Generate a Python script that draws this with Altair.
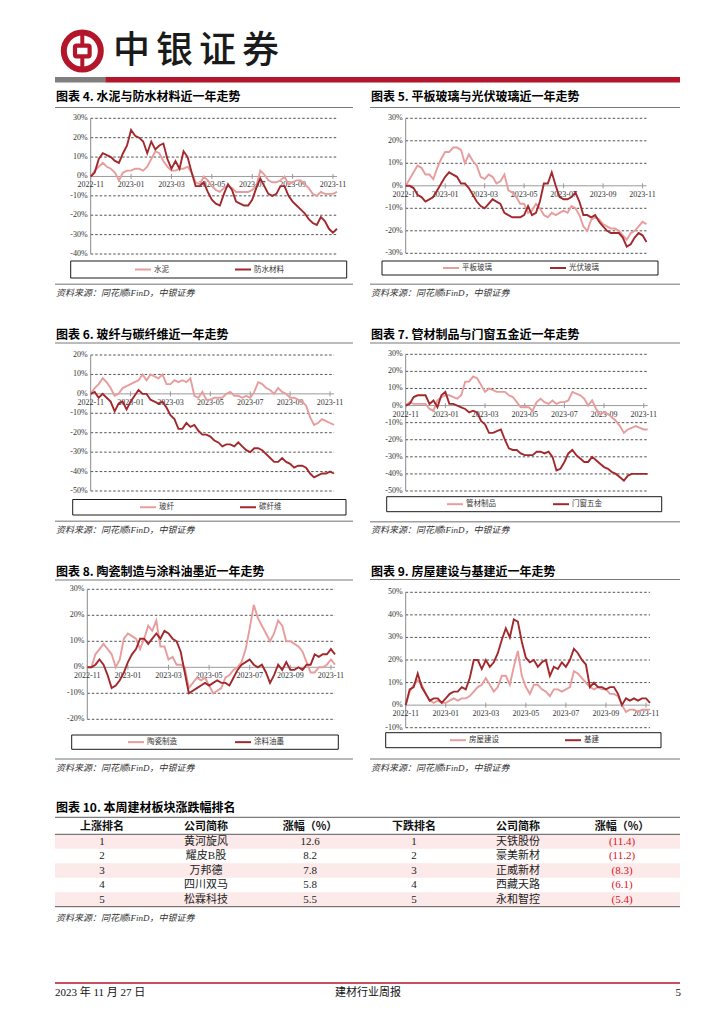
import altair as alt
import pandas as pd

# ------------------------------------------------------------------ data
month_labels = ["2022-11", "2023-01", "2023-03", "2023-05", "2023-07", "2023-09", "2023-11"]
month_label_idx = [0, 10, 20, 30, 40, 50, 60]

# chart 4
cement = [0, 3, 5, 7, 5, 4, 2, -2, 2, 3, 3, 4, 4, 3, 5, 9, 13, 12, 8, 5, 3, 3, 4, 4, 5, 2, -3, -4, 0, -2,
          -5, -7, -8, -6, -5, -6, -8, -8, -8, -8, -7, -5, 3, 1, -2, -3, -3, -2, 0, -4, -3, -2, -2, -4,
          -6, -9, -10, -8, -9, -9, -9, -8]
waterproof = [0, 2, 9, 12, 11, 10, 8, 7, 12, 16, 24, 21, 20, 18, 12, 18, 14, 16, 17, 9, 4, 8, 4, 13, 10,
              2, -5, -5, -3, -8, -12, -14, -15, -9, -4, -7, -13, -14, -15, -15, -12, -6, -1, -5, -9, -10,
              -9, -5, -5, -10, -13, -15, -17, -19, -22, -24, -25, -21, -23, -27, -29, -27]
# chart 5
flat_glass = [0, 3, 6, 9, 8, 5, 5, 3, 8, 12, 15, 15, 17, 17, 16, 10, 14, 11, 9, 4, 3, 5, 4, 1, 2, 5, -2,
              -3, -5, -8, -8, -12, -11, -8, -10, -13, -14, -12, -13, -12, -11, -12, -9, -10, -13, -18,
              -20, -15, -14, -15, -17, -18, -19, -19, -20, -22, -24, -21, -20, -18, -16, -17]
pv_glass = [0, 0, -1, -4, -5, -7, -6, -5, -2, 1, 4, 6, 5, 4, 1, 1, -1, -4, -7, -9, -10, -8, -6, -7, -8,
            -12, -13, -14, -14, -14, -13, -9, -13, -12, -7, 1, 1, 6, 0, -5, -6, -6, -5, -3, -7, -13, -13,
            -14, -13, -16, -18, -20, -21, -21, -21, -23, -27, -26, -23, -21, -22, -25]
# chart 6
glass_fiber = [0, 3, 5, 8, 6, 3, -1, 0, 3, 4, 5, 6, 7, 10, 7, 10, 9, 8, 10, 5, 5, 7, 6, 7, 6, 8, -1, -2,
               1, -3, -3, -2, -2, -2, 0, 1, -1, -1, -2, -1, -2, 1, 6, 5, 3, 2, 0, 3, 1, 0, -2, -2, -3,
               -4, -6, -12, -16, -15, -13, -14, -15, -16]
carbon_fiber = [0, 1, -2, 0, -2, -4, -9, -5, -4, -8, -4, -1, 2, 0, 0, -3, -4, -5, -4, -7, -11, -13, -18,
                -18, -15, -17, -16, -19, -21, -21, -22, -24, -25, -27, -26, -26, -27, -25, -27, -29, -30,
                -28, -28, -29, -31, -33, -35, -35, -33, -35, -36, -38, -37, -37, -38, -41, -43, -42, -41,
                -41, -40, -41]
# chart 7
pipes = [0, 2, 1, 1, 1, 1, -2, -3, 3, 5, 6, 6, 5, 4, 6, 14, 14, 17, 16, 12, 8, 10, 9, 8, 8, 8, 6, 5, 2,
         -1, -1, -1, -3, 2, 4, 2, 1, 3, 1, 2, 2, 3, 8, 7, 6, 4, 0, 3, -2, -5, -4, -5, -7, -9, -12, -16,
         -14, -13, -12, -13, -14, -14]
hardware = [0, 1, 5, 6, 6, 6, 1, 3, -1, 6, 8, 1, 1, 0, -1, -2, -4, -3, -4, -9, -11, -16, -16, -15, -14,
            -20, -25, -26, -26, -28, -29, -29, -29, -27, -27, -28, -27, -30, -38, -37, -33, -28, -26, -29,
            -31, -33, -33, -30, -32, -34, -36, -37, -39, -40, -42, -44, -41, -40, -40, -40, -40, -40]
# chart 8
ceramics = [0, 0, 5, 7, 9, 7, 5, 0, 3, 11, 13, 12, 11, 7, 11, 16, 14, 18, 8, 8, 3, 4, 1, 1, 0, -8, -6,
            -4, -5, -4, -7, -10, -9, -8, -4, -3, -1, 0, 2, 7, 15, 24, 19, 16, 13, 10, 13, 18, 16, 10, 10,
            9, 8, 6, 2, -2, -2, 0, 0, 1, 3, 1]
coatings = [0, 0, 1, 3, 1, -3, -8, -7, -5, -2, 2, 5, 7, 11, 11, 9, 11, 13, 11, 14, 13, 11, 10, 6, -2,
            -10, -9, -8, -7, -6, -7, -6, -5, -6, -6, -7, -4, -1, 1, 2, 3, 1, 0, 1, -2, -6, -3, 1, -1, 2,
            -1, -1, 0, -1, 1, 1, 5, 4, 5, 5, 7, 5]
# chart 9
housing = [0, 6, 9, 11, 9, 5, 2, 1, 2, 1, 1, 2, 3, 2, 3, 3, 4, 6, 8, 9, 12, 9, 6, 8, 13, 13, 9, 17, 24,
           13, 8, 5, 9, 9, 7, 6, 4, 7, 7, 6, 7, 8, 15, 14, 12, 10, 8, 7, 8, 7, 7, 5, 5, 4, 0, -3, -2, -2,
           -3, -2, -2, -2]
infra = [0, 7, 8, 14, 8, 5, 2, 3, 3, 1, 3, 5, 6, 6, 8, 7, 12, 20, 20, 16, 20, 17, 19, 23, 29, 34, 30, 38,
         37, 28, 21, 19, 20, 17, 19, 20, 13, 17, 16, 19, 17, 20, 25, 23, 20, 18, 8, 10, 8, 8, 7, 8, 8, 5,
         0, 3, 2, 3, 2, 3, 3, 1]

ticks_4 = [30, 20, 10, 0, -10, -20, -30, -40]
ticks_5 = [30, 20, 10, 0, -10, -20, -30]
ticks_6 = [20, 10, 0, -10, -20, -30, -40, -50]
ticks_7 = [30, 20, 10, 0, -10, -20, -30, -40, -50]
ticks_8 = [30, 20, 10, 0, -10, -20]
ticks_9 = [50, 40, 30, 20, 10, 0, -10]

# table
table_header = ["上涨排名", "公司简称", "涨幅（%）", "下跌排名", "公司简称", "涨幅（%）"]
up_rank = ["1", "2", "3", "4", "5"]
up_name = ["黄河旋风", "耀皮B股", "万邦德", "四川双马", "松霖科技"]
up_pct = ["12.6", "8.2", "7.8", "5.8", "5.5"]
down_rank = ["1", "2", "3", "4", "5"]
down_name = ["天铁股份", "豪美新材", "正威新材", "西藏天路", "永和智控"]
down_pct = ["(11.4)", "(11.2)", "(8.3)", "(6.1)", "(5.4)"]

SOURCE = "资料来源：同花顺iFinD，中银证券"

# ------------------------------------------------------------------ style
O = 8  # page margin
RED = "#B3152B"
PINK = "#E89C9C"
DARK = "#A3282C"
SERIF = "Liberation Serif, Noto Sans CJK SC"
SANS = "Noto Sans CJK SC"
ONE = alt.Data(values=[{}])


def p(v):
    return v - O


def txt(s, x, y, size=9, align="left", weight="normal", font=SERIF, color="#000", style=None):
    kw = dict(text=s, align=align, baseline="middle", fontSize=size, fontWeight=weight,
              font=font, color=color)
    if style:
        kw["fontStyle"] = style
    return alt.Chart(ONE).mark_text(**kw).encode(x=alt.value(p(x)), y=alt.value(p(y)))


def hrule(x1, x2, y, color="#000", width=1.0, dash=None):
    kw = dict(color=color, strokeWidth=width)
    if dash:
        kw["strokeDash"] = dash
    return alt.Chart(ONE).mark_rule(**kw).encode(
        x=alt.value(p(x1)), x2=alt.value(p(x2)), y=alt.value(p(y)))


def box(x1, x2, y1, y2, fill="#fff", stroke="#000", sw=0.8, r=0):
    kw = dict(fill=fill, strokeWidth=sw)
    if stroke:
        kw["stroke"] = stroke
    if r:
        kw["cornerRadius"] = r
    return alt.Chart(ONE).mark_rect(**kw).encode(
        x=alt.value(p(x1)), x2=alt.value(p(x2)), y=alt.value(p(y1)), y2=alt.value(p(y2)))


def panel(g, a, b, names, ticks):
    n = len(a)
    x0, x1, yt, yb = g["plot"]
    lo, hi = min(ticks), max(ticks)
    xs = alt.Scale(domain=[0, n - 1], range=[p(x0), p(x1)], nice=False, zero=False)
    ys = alt.Scale(domain=[lo, hi], range=[p(yb), p(yt)], nice=False, zero=False)
    X = lambda f: alt.X(f, type="quantitative", scale=xs, axis=None)
    Y = lambda f: alt.Y(f, type="quantitative", scale=ys, axis=None)
    y0 = yb - (0 - lo) / (hi - lo) * (yb - yt)

    tick_df = pd.DataFrame({"v": ticks, "lab": [f"{t}%" for t in ticks]})
    grid_df = tick_df[tick_df.v != 0]
    zero_df = tick_df[tick_df.v == 0]
    mon_df = pd.DataFrame({"i": month_label_idx, "lab": month_labels})
    da = pd.DataFrame({"i": list(range(n)), "v": a})
    db = pd.DataFrame({"i": list(range(n)), "v": b})

    layers = [
        alt.Chart(grid_df).mark_rule(color="#262626", strokeDash=[2.5, 2], strokeWidth=0.8).encode(
            y=Y("v"), x=alt.value(p(x0)), x2=alt.value(p(x1))),
        alt.Chart(zero_df).mark_rule(color="#9a9a9a", strokeWidth=1).encode(
            y=Y("v"), x=alt.value(p(x0)), x2=alt.value(p(x1))),
        alt.Chart(ONE).mark_rule(color="#8a8a8a", strokeWidth=1).encode(
            x=alt.value(p(x0)), y=alt.value(p(yt)), y2=alt.value(p(yb))),
        alt.Chart(tick_df).mark_text(align="right", baseline="middle", font=SERIF, fontSize=8,
                                     color="#333").encode(
            y=Y("v"), x=alt.value(p(x0) - 3), text="lab:N"),
        alt.Chart(mon_df).mark_rule(color="#9a9a9a", strokeWidth=1).encode(
            x=X("i"), y=alt.value(p(y0) - 2.5), y2=alt.value(p(y0) + 2.5)),
        alt.Chart(mon_df).mark_text(align="center", baseline="middle", font=SERIF, fontSize=8,
                                    color="#333").encode(
            x=X("i"), y=alt.value(p(y0) + 9), text="lab:N"),
        alt.Chart(da).mark_line(color=PINK, strokeWidth=1.9).encode(x=X("i"), y=Y("v")),
        alt.Chart(db).mark_line(color=DARK, strokeWidth=1.9).encode(x=X("i"), y=Y("v")),
    ]

    tx, ty = g["title"]
    ux1, ux2, uy = g["under"]
    lx1, lx2, ly1, ly2 = g["legbox"]
    ly = (ly1 + ly2) / 2
    pa, pb = g["leg"]
    sy = g["sep"]
    layers += [
        txt(g["text"], tx, ty, size=12, weight="bold", font=SANS),
        hrule(ux1, ux2, uy, color="#555", width=0.8),
        box(lx1, lx2, ly1, ly2, sw=0.9),
        hrule(pa, pa + 16, ly, color=PINK, width=2),
        txt(names[0], pa + 19, ly, size=7.5, color="#333"),
        hrule(pb, pb + 16, ly, color=DARK, width=2),
        txt(names[1], pb + 19, ly, size=7.5, color="#333"),
        hrule(ux1, ux2, sy, color="#a0a0a0", width=1.6),
        txt(SOURCE, ux1 + 1, sy + 8.5, size=9, color="#333", style="italic"),
    ]
    return alt.layer(*layers)


L = (55, 353)
R = (370, 680)
geo4 = dict(plot=(90.7, 337, 118.3, 254), title=(56, 97), under=(L[0], L[1], 107.5),
            legbox=(70.7, 346.7, 261, 278), leg=(135, 235), sep=284.3,
            text="图表 4. 水泥与防水材料近一年走势")
geo5 = dict(plot=(405.7, 646.5, 118.3, 253.3), title=(371, 97), under=(R[0], R[1], 107.5),
            legbox=(382, 658, 261, 275), leg=(443, 550), sep=284.3,
            text="图表 5. 平板玻璃与光伏玻璃近一年走势")
geo6 = dict(plot=(90.7, 334, 355, 491), title=(56, 334.5), under=(L[0], L[1], 343),
            legbox=(72.7, 346, 499.5, 515), leg=(140, 240), sep=521.3,
            text="图表 6. 玻纤与碳纤维近一年走势")
geo7 = dict(plot=(405.7, 647.7, 354.3, 491), title=(371, 334.5), under=(R[0], R[1], 343),
            legbox=(386.7, 661.7, 496.7, 511.7), leg=(447, 553), sep=521.7,
            text="图表 7. 管材制品与门窗五金近一年走势")
geo8 = dict(plot=(87.3, 335, 589.3, 719.3), title=(56, 571.5), under=(L[0], L[1], 580),
            legbox=(71.7, 338.3, 735, 749.3), leg=(128, 235), sep=759,
            text="图表 8. 陶瓷制造与涂料油墨近一年走势")
geo9 = dict(plot=(405.7, 650, 592.3, 727.7), title=(371, 571.5), under=(R[0], R[1], 579.5),
            legbox=(385.7, 661, 732.7, 747.7), leg=(450, 565), sep=759,
            text="图表 9. 房屋建设与基建近一年走势")

panels = [
    panel(geo4, cement, waterproof, ["水泥", "防水材料"], ticks_4),
    panel(geo5, flat_glass, pv_glass, ["平板玻璃", "光伏玻璃"], ticks_5),
    panel(geo6, glass_fiber, carbon_fiber, ["玻纤", "碳纤维"], ticks_6),
    panel(geo7, pipes, hardware, ["管材制品", "门窗五金"], ticks_7),
    panel(geo8, ceramics, coatings, ["陶瓷制造", "涂料油墨"], ticks_8),
    panel(geo9, housing, infra, ["房屋建设", "基建"], ticks_9),
]

# ------------------------------------------------------------------ header
cx, cy = 82.3, 51
header = [
    alt.Chart(ONE).mark_point(shape="circle", size=37 ** 2, filled=False, stroke=RED,
                              strokeWidth=6, opacity=1).encode(x=alt.value(p(cx)), y=alt.value(p(cy))),
    alt.Chart(ONE).mark_rule(color=RED, strokeWidth=4).encode(
        x=alt.value(p(cx)), y=alt.value(p(cy - 19)), y2=alt.value(p(cy + 19))),
    box(cx - 7.3, cx + 7.3, cy - 5.3, cy + 5.3, fill="#fff", stroke=RED, sw=4.2, r=1.5),
    box(55, 105.3, 77, 82.5, fill="#7f7f7f", stroke=None, sw=0),
    box(105.3, 680, 77, 82.5, fill=RED, stroke=None, sw=0),
]
for k, ch in enumerate("中银证券"):
    header.append(txt(ch, 113 + k * 43, 52, size=37, font=SANS, weight=500, color="#1a1a1a"))

# ------------------------------------------------------------------ table
cols = [up_rank, up_name, up_pct, down_rank, down_name, down_pct]
body_rows = []
for c, colvals in enumerate(cols):
    for r, s in enumerate(colvals):
        body_rows.append({"c": c, "r": r + 1, "t": s, "red": c == 5})
body = pd.DataFrame(body_rows)
head = pd.DataFrame({"c": list(range(6)), "r": [0] * 6, "t": table_header})
stripes = pd.DataFrame({"r": [1, 3, 5]})

txs = alt.Scale(domain=[0, 5], range=[p(102), p(622)], nice=False, zero=False)
tys = alt.Scale(domain=[0, 5], range=[p(827), p(899.5)], nice=False, zero=False)
TX = alt.X("c:Q", scale=txs, axis=None)
TY = alt.Y("r:Q", scale=tys, axis=None)

table = alt.layer(
    alt.Chart(stripes).transform_calculate(ra="datum.r - 0.5", rb="datum.r + 0.5").mark_rect(
        fill="#FCE9E9").encode(
        y=alt.Y("ra:Q", scale=tys, axis=None), y2="rb:Q", x=alt.value(p(55)), x2=alt.value(p(680))),
    alt.Chart(head).mark_text(font=SANS, fontWeight="bold", fontSize=11, baseline="middle",
                              align="center", color="#111").encode(x=TX, y=TY, text="t:N"),
    alt.Chart(body[~body.red]).mark_text(font=SERIF, fontSize=11, baseline="middle", align="center",
                                         color="#222").encode(x=TX, y=TY, text="t:N"),
    alt.Chart(body[body.red]).mark_text(font=SERIF, fontSize=11, baseline="middle", align="center",
                                        color="#E3101A").encode(x=TX, y=TY, text="t:N"),
)
table_deco = [
    txt("图表 10. 本周建材板块涨跌幅排名", 56, 808, size=12, weight="bold", font=SANS),
    hrule(55, 680, 817.3, color="#333", width=0.8),
    hrule(55, 680, 834.3, color="#333", width=0.8),
    hrule(55, 680, 906.7, color="#333", width=0.8),
    txt(SOURCE, 56, 917.5, size=9, color="#333", style="italic"),
]

# ------------------------------------------------------------------ footer
footer = [
    hrule(55, 680, 983, color=RED, width=1.6),
    txt("2023 年 11 月 27 日", 55, 993, size=11, font=SERIF, color="#111"),
    txt("建材行业周报", 368, 993, size=11, align="center", font=SERIF, color="#111"),
    txt("5", 681, 993, size=11, align="right", font=SERIF, color="#111"),
]

chart = alt.layer(*header, *panels, table, *table_deco, *footer).resolve_scale(
    x="independent", y="independent"
).properties(
    width=708, height=1008, padding=0, autosize=alt.AutoSizeParams(type="none"),
    background="#ffffff",
).configure_view(strokeWidth=0)

chart.save("out.html", embed_options={"renderer": "svg", "actions": False})
